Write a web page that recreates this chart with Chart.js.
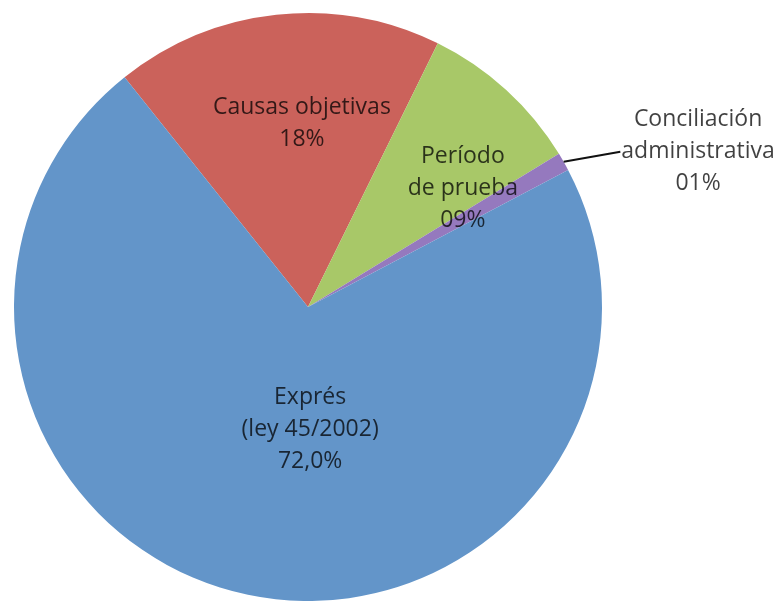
<!DOCTYPE html>
<html>
<head>
<meta charset="utf-8">
<script src="https://cdn.jsdelivr.net/npm/chart.js@4"></script>
<style>
  html, body { margin: 0; padding: 0; background: #fff; overflow: hidden; }
  #wrap { width: 776px; height: 601px; }
</style>
</head>
<body>
<div id="wrap"><canvas id="myChart"></canvas></div>
<script>
// slices, clockwise from the top-left
const categories = ['Causas objetivas', 'Período de prueba', 'Conciliación administrativa', 'Exprés (ley 45/2002)'];
const values = [18, 9, 1, 72];
const valueLabels = ['18%', '09%', '01%', '72,0%'];
const labelLines = [
    ['Causas objetivas'],
    ['Período', 'de prueba'],
    ['Conciliación', 'administrativa'],
    ['Exprés', '(ley 45/2002)']
];
const colors = ['#CB625B', '#A8C868', '#9579BE', '#6395C9'];

// where each label block sits: angle (deg from top, clockwise), distance as fraction of radius
const labelPlace = [
    { angle: -1.9, dist: 0.626 },
    { angle: 52.5, dist: 0.664 },
    { angle: 68.3, dist: 1.428, leader: true },
    { angle: 179, dist: 0.418 }
];

const pieLabels = {
    id: 'pieLabels',
    afterDatasetsDraw(chart) {
        const c = chart.ctx;
        const arcs = chart.getDatasetMeta(0).data;
        const cx = arcs[0].x, cy = arcs[0].y, r = arcs[0].outerRadius;
        const lh = 32;
        c.save();
        c.font = '23px "Open Sans"';
        c.textAlign = 'center';
        c.textBaseline = 'middle';
        c.fillStyle = 'rgba(0,0,0,0.75)';
        labelPlace.forEach((p, i) => {
            const a = p.angle * Math.PI / 180;
            const x = cx + Math.sin(a) * r * p.dist;
            const y = cy - Math.cos(a) * r * p.dist;
            const lines = labelLines[i].concat([valueLabels[i]]);
            const top = y - (lines.length - 1) * lh / 2;
            lines.forEach((t, k) => c.fillText(t, x, top + k * lh));
            if (p.leader) {
                const arc = arcs[i];
                const mid = (arc.startAngle + arc.endAngle) / 2;
                const sx = cx + Math.cos(mid) * r;
                const sy = cy + Math.sin(mid) * r;
                const w = c.measureText(lines[1]).width;
                c.strokeStyle = '#111';
                c.lineWidth = 2;
                c.beginPath();
                c.moveTo(sx, sy);
                c.lineTo(x - w / 2 - 1, top + lh);
                c.stroke();
            }
        });
        c.restore();
    }
};

new Chart(document.getElementById('myChart'), {
    type: 'pie',
    data: {
        labels: categories,
        datasets: [{
            data: values,
            backgroundColor: colors,
            borderWidth: 0
        }]
    },
    options: {
        responsive: true,
        maintainAspectRatio: false,
        animation: false,
        rotation: -38.6,
        layout: { padding: { left: 14, right: 174, top: 13, bottom: 0 } },
        plugins: {
            legend: { display: false },
            tooltip: { enabled: false }
        }
    },
    plugins: [pieLabels]
});
</script>
</body>
</html>
